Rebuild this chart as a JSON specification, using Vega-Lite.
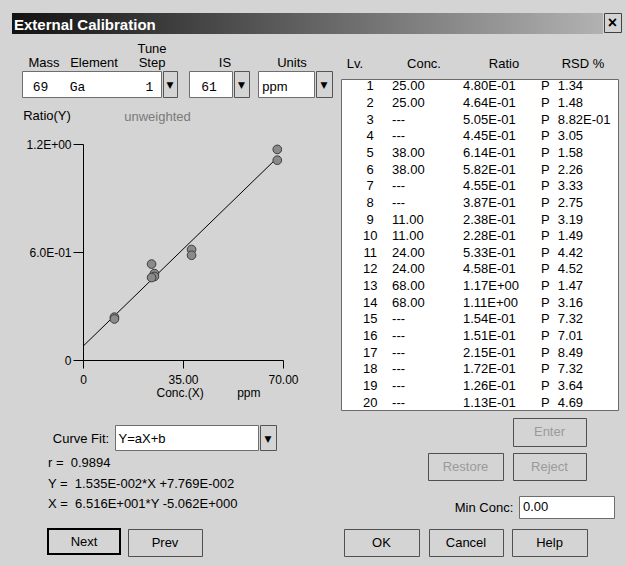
{
"$schema": "https://vega.github.io/schema/vega-lite/v6.json",
"background": "#d4d4d4",
"padding": {"left": 12, "top": 12, "right": 4, "bottom": 10},
"config": {
  "view": {"stroke": null},
  "concat": {"spacing": 0},
  "text": {"font": "Liberation Sans", "fontSize": 13, "color": "#000000"},
  "axis": {"labelFont": "Liberation Sans", "titleFont": "Liberation Sans", "labelFontSize": 12, "titleFontSize": 12, "titleFontWeight": "normal", "labelColor": "#000000", "titleColor": "#000000", "domainColor": "#000000", "tickColor": "#000000", "grid": false}
},
"datasets": {"levels": [
  {"lv": 1, "conc": "25.00", "ratio": "4.80E-01", "rsd": "1.34"},
  {"lv": 2, "conc": "25.00", "ratio": "4.64E-01", "rsd": "1.48"},
  {"lv": 3, "conc": "---", "ratio": "5.05E-01", "rsd": "8.82E-01"},
  {"lv": 4, "conc": "---", "ratio": "4.45E-01", "rsd": "3.05"},
  {"lv": 5, "conc": "38.00", "ratio": "6.14E-01", "rsd": "1.58"},
  {"lv": 6, "conc": "38.00", "ratio": "5.82E-01", "rsd": "2.26"},
  {"lv": 7, "conc": "---", "ratio": "4.55E-01", "rsd": "3.33"},
  {"lv": 8, "conc": "---", "ratio": "3.87E-01", "rsd": "2.75"},
  {"lv": 9, "conc": "11.00", "ratio": "2.38E-01", "rsd": "3.19"},
  {"lv": 10, "conc": "11.00", "ratio": "2.28E-01", "rsd": "1.49"},
  {"lv": 11, "conc": "24.00", "ratio": "5.33E-01", "rsd": "4.42"},
  {"lv": 12, "conc": "24.00", "ratio": "4.58E-01", "rsd": "4.52"},
  {"lv": 13, "conc": "68.00", "ratio": "1.17E+00", "rsd": "1.47"},
  {"lv": 14, "conc": "68.00", "ratio": "1.11E+00", "rsd": "3.16"},
  {"lv": 15, "conc": "---", "ratio": "1.54E-01", "rsd": "7.32"},
  {"lv": 16, "conc": "---", "ratio": "1.51E-01", "rsd": "7.01"},
  {"lv": 17, "conc": "---", "ratio": "2.15E-01", "rsd": "8.49"},
  {"lv": 18, "conc": "---", "ratio": "1.72E-01", "rsd": "7.32"},
  {"lv": 19, "conc": "---", "ratio": "1.26E-01", "rsd": "3.64"},
  {"lv": 20, "conc": "---", "ratio": "1.13E-01", "rsd": "4.69"}
]},
"vconcat": [
 {"hconcat": [
   {"width": 591, "height": 21, "data": {"values": [{}]}, "layer": [
     {"mark": {"type": "rect", "fill": {"gradient": "linear", "x1": 0, "y1": 0, "x2": 1, "y2": 0, "stops": [{"offset": 0, "color": "#121212"}, {"offset": 1, "color": "#b2b2b2"}]}}, "encoding": {}},
     {"mark": {"type": "text", "text": "External Calibration", "align": "left", "dx": -293.5, "dy": 1, "fontSize": 15, "fontWeight": "bold", "color": "#ffffff"}}
   ]},
   {"width": 17, "height": 19, "view": {"fill": "#d4d4d4", "stroke": "#404040"}, "data": {"values": [{}]}, "mark": {"type": "text", "text": "×", "fontSize": 16, "fontWeight": "bold"}}
 ]},
 {"hconcat": [
   {"vconcat": [
     {"hconcat": [
       {"width": 57, "height": 36, "data": {"values": [{}]}, "mark": {"type": "text", "text": "Mass", "dx": 3.5, "dy": 11}},
       {"width": 55, "height": 36, "data": {"values": [{}]}, "mark": {"type": "text", "text": "Element", "dx": -2.5, "dy": 11}},
       {"width": 61, "height": 36, "data": {"values": [{}]}, "layer": [
         {"mark": {"type": "text", "text": "Tune", "dx": -2.5, "dy": -3}},
         {"mark": {"type": "text", "text": "Step", "dx": -2.5, "dy": 11}}
       ]},
       {"width": 72, "height": 36, "data": {"values": [{}]}, "mark": {"type": "text", "text": "IS", "dx": 4, "dy": 11}},
       {"width": 83, "height": 36, "data": {"values": [{}]}, "mark": {"type": "text", "text": "Units", "dx": -6.5, "dy": 11}}
     ]},
     {"hconcat": [
       {"width": 9, "height": 28, "data": {"values": [{}]}, "mark": {"type": "rect", "opacity": 0}, "encoding": {}},
       {"width": 139, "height": 26, "view": {"fill": "#ffffff", "stroke": "#6e6e6e"}, "data": {"values": [{}]}, "layer": [
         {"mark": {"type": "text", "text": "69", "font": "Liberation Mono", "dx": -51, "dy": 3}},
         {"mark": {"type": "text", "text": "Ga", "font": "Liberation Mono", "dx": -14, "dy": 3}},
         {"mark": {"type": "text", "text": "1", "font": "Liberation Mono", "dx": 58, "dy": 3}}
       ]},
       {"width": 14, "height": 26, "view": {"fill": "#d4d4d4", "stroke": "#555555"}, "data": {"values": [{}]}, "mark": {"type": "text", "text": "▼", "font": "DejaVu Sans", "fontSize": 9, "dy": 1}},
       {"width": 10, "height": 28, "data": {"values": [{}]}, "mark": {"type": "rect", "opacity": 0}, "encoding": {}},
       {"width": 43, "height": 26, "view": {"fill": "#ffffff", "stroke": "#6e6e6e"}, "data": {"values": [{}]}, "mark": {"type": "text", "text": "61", "font": "Liberation Mono", "dx": -1.5, "dy": 3}},
       {"width": 15, "height": 26, "view": {"fill": "#d4d4d4", "stroke": "#555555"}, "data": {"values": [{}]}, "mark": {"type": "text", "text": "▼", "font": "DejaVu Sans", "fontSize": 9, "dy": 1}},
       {"width": 7, "height": 28, "data": {"values": [{}]}, "mark": {"type": "rect", "opacity": 0}, "encoding": {}},
       {"width": 56, "height": 26, "view": {"fill": "#ffffff", "stroke": "#6e6e6e"}, "data": {"values": [{}]}, "mark": {"type": "text", "text": "ppm", "dx": -11, "dy": 3}},
       {"width": 16, "height": 26, "view": {"fill": "#d4d4d4", "stroke": "#555555"}, "data": {"values": [{}]}, "mark": {"type": "text", "text": "▼", "font": "DejaVu Sans", "fontSize": 9, "dy": 1}},
       {"width": 7, "height": 28, "data": {"values": [{}]}, "mark": {"type": "rect", "opacity": 0}, "encoding": {}}
     ]},
     {"hconcat": [
       {"width": 98, "height": 39, "data": {"values": [{}]}, "mark": {"type": "text", "text": "Ratio(Y)", "dx": -14, "dy": -3}},
       {"width": 100, "height": 39, "data": {"values": [{}]}, "mark": {"type": "text", "text": "unweighted", "dx": -2.5, "dy": -2, "color": "#7a7a7a"}}
     ]},
     {"hconcat": [
       {"width": 13, "height": 1, "data": {"values": [{}]}, "mark": {"type": "rect", "opacity": 0}, "encoding": {}},
       {"width": 200, "height": 216, "data": {"name": "levels"},
        "transform": [{"filter": "datum.conc !== '---'"}],
        "encoding": {
          "x": {"field": "conc", "type": "quantitative", "scale": {"domain": [0, 70], "nice": false, "zero": false},
                "axis": {"values": [0, 35, 70], "labelExpr": "datum.value == 0 ? '0' : format(datum.value, '.2f')", "tickSize": 8, "labelPadding": 6, "labelFlush": false, "labelOverlap": false, "title": "Conc.(X)\u00a0\u00a0\u00a0\u00a0\u00a0\u00a0\u00a0\u00a0\u00a0\u00a0ppm", "titleAlign": "left", "titleAnchor": "start", "titleX": 73, "titlePadding": 2}},
          "y": {"field": "ratio", "type": "quantitative", "scale": {"domain": [0, 1.2], "nice": false},
                "axis": {"values": [0, 0.6, 1.2], "labelExpr": "datum.value == 0 ? '0' : (datum.value < 1 ? '6.0E-01' : '1.2E+00')", "tickSize": 10, "labelPadding": 2, "labelOverlap": false, "title": null}}
        },
        "layer": [
          {"transform": [{"regression": "ratio", "on": "conc", "extent": [0, 68]}], "mark": {"type": "line", "color": "#000000", "strokeWidth": 1}, "encoding": {}},
          {"mark": {"type": "point", "shape": "circle", "filled": true, "size": 75, "fill": "#8a8a8a", "stroke": "#3c3c3c", "strokeWidth": 1, "opacity": 1}}
        ]}
     ]}
   ]},
   {"vconcat": [
     {"hconcat": [
       {"width": 35, "height": 44, "data": {"values": [{}]}, "mark": {"type": "text", "text": "Lv.", "dx": -3.5, "dy": 8}},
       {"width": 90, "height": 44, "data": {"values": [{}]}, "mark": {"type": "text", "text": "Conc.", "dx": 3, "dy": 8}},
       {"width": 75, "height": 44, "data": {"values": [{}]}, "mark": {"type": "text", "text": "Ratio", "dx": 0.5, "dy": 8}},
       {"width": 82, "height": 44, "data": {"values": [{}]}, "mark": {"type": "text", "text": "RSD %", "dx": 1, "dy": 8}}
     ]},
     {"width": 277, "height": 331, "view": {"fill": "#ffffff", "stroke": "#6a6a6a"}, "data": {"name": "levels"},
      "encoding": {"y": {"field": "lv", "type": "ordinal", "axis": null, "scale": {"type": "point", "padding": 0.45}}},
      "layer": [
        {"mark": {"type": "text", "align": "center", "dx": 1.5}, "encoding": {"x": {"datum": "Lv", "type": "nominal", "axis": null, "scale": {"type": "point", "domain": ["Lv", "Conc", "Ratio", "P", "RSD"], "padding": 0.5}}, "text": {"field": "lv"}}},
        {"mark": {"type": "text", "align": "left", "dx": -32}, "encoding": {"x": {"datum": "Conc", "type": "nominal", "axis": null}, "text": {"field": "conc"}}},
        {"mark": {"type": "text", "align": "left", "dx": -16.5}, "encoding": {"x": {"datum": "Ratio", "type": "nominal", "axis": null}, "text": {"field": "ratio"}}},
        {"mark": {"type": "text", "align": "left", "dx": 6}, "encoding": {"x": {"datum": "P", "type": "nominal", "axis": null}, "text": {"value": "P"}}},
        {"mark": {"type": "text", "align": "left", "dx": -32.5}, "encoding": {"x": {"datum": "RSD", "type": "nominal", "axis": null}, "text": {"field": "rsd"}}}
      ]}
   ]}
 ]},
 {"hconcat": [
   {"vconcat": [
     {"width": 328, "height": 13, "data": {"values": [{}]}, "mark": {"type": "rect", "opacity": 0}, "encoding": {}},
     {"hconcat": [
       {"width": 36, "height": 27, "data": {"values": [{}]}, "mark": {"type": "rect", "opacity": 0}, "encoding": {}},
       {"width": 66, "height": 27, "data": {"values": [{}]}, "mark": {"type": "text", "text": "Curve Fit:"}},
       {"width": 143, "height": 25, "view": {"fill": "#ffffff", "stroke": "#6e6e6e"}, "data": {"values": [{}]}, "mark": {"type": "text", "text": "Y=aX+b", "align": "left", "dx": -68, "dy": 1}},
       {"width": 16, "height": 25, "view": {"fill": "#d4d4d4", "stroke": "#555555"}, "data": {"values": [{}]}, "mark": {"type": "text", "text": "▼", "font": "DejaVu Sans", "fontSize": 9, "dy": 1}}
     ]},
     {"hconcat": [
       {"width": 36, "height": 63, "data": {"values": [{}]}, "mark": {"type": "rect", "opacity": 0}, "encoding": {}},
       {"width": 250, "height": 63,
        "data": {"values": [
          {"line": 1, "text": "r =\u00a0\u00a00.9894"},
          {"line": 2, "text": "Y =\u00a0\u00a01.535E-002*X +7.769E-002"},
          {"line": 3, "text": "X =\u00a0\u00a06.516E+001*Y -5.062E+000"}
        ]},
        "mark": {"type": "text", "align": "left", "dx": -125},
        "encoding": {"y": {"field": "line", "type": "ordinal", "axis": null, "scale": {"type": "point", "padding": 0.54}}, "text": {"field": "text"}}}
     ]},
     {"width": 328, "height": 11, "data": {"values": [{}]}, "mark": {"type": "rect", "opacity": 0}, "encoding": {}}
   ]},
   {"vconcat": [
     {"width": 10, "height": 6, "data": {"values": [{}]}, "mark": {"type": "rect", "opacity": 0}, "encoding": {}},
     {"hconcat": [
       {"width": 172, "height": 30, "data": {"values": [{}]}, "mark": {"type": "rect", "opacity": 0}, "encoding": {}},
       {"width": 73, "height": 28, "view": {"fill": "#d4d4d4", "stroke": "#505050"}, "data": {"values": [{}]}, "mark": {"type": "text", "text": "Enter", "color": "#9a9a9a"}}
     ]},
     {"width": 10, "height": 4, "data": {"values": [{}]}, "mark": {"type": "rect", "opacity": 0}, "encoding": {}},
     {"hconcat": [
       {"width": 87, "height": 29, "data": {"values": [{}]}, "mark": {"type": "rect", "opacity": 0}, "encoding": {}},
       {"width": 75, "height": 27, "view": {"fill": "#d4d4d4", "stroke": "#505050"}, "data": {"values": [{}]}, "mark": {"type": "text", "text": "Restore", "color": "#9a9a9a"}},
       {"width": 8, "height": 29, "data": {"values": [{}]}, "mark": {"type": "rect", "opacity": 0}, "encoding": {}},
       {"width": 73, "height": 27, "view": {"fill": "#d4d4d4", "stroke": "#505050"}, "data": {"values": [{}]}, "mark": {"type": "text", "text": "Reject", "color": "#9a9a9a"}}
     ]},
     {"width": 10, "height": 13, "data": {"values": [{}]}, "mark": {"type": "rect", "opacity": 0}, "encoding": {}},
     {"hconcat": [
       {"width": 108, "height": 24, "data": {"values": [{}]}, "mark": {"type": "rect", "opacity": 0}, "encoding": {}},
       {"width": 70, "height": 24, "data": {"values": [{}]}, "mark": {"type": "text", "text": "Min Conc:", "dx": 1}},
       {"width": 95, "height": 22, "view": {"fill": "#ffffff", "stroke": "#6e6e6e"}, "data": {"values": [{}]}, "mark": {"type": "text", "text": "0.00", "align": "left", "dx": -43.5}}
     ]},
     {"width": 10, "height": 8, "data": {"values": [{}]}, "mark": {"type": "rect", "opacity": 0}, "encoding": {}}
   ]}
 ]},
 {"hconcat": [
   {"width": 35, "height": 29, "data": {"values": [{}]}, "mark": {"type": "rect", "opacity": 0}, "encoding": {}},
   {"width": 72, "height": 25, "view": {"fill": "#d4d4d4", "stroke": "#000000", "strokeWidth": 2}, "data": {"values": [{}]}, "mark": {"type": "text", "text": "Next"}},
   {"width": 6, "height": 29, "data": {"values": [{}]}, "mark": {"type": "rect", "opacity": 0}, "encoding": {}},
   {"width": 74, "height": 27, "view": {"fill": "#d4d4d4", "stroke": "#505050"}, "data": {"values": [{}]}, "mark": {"type": "text", "text": "Prev"}},
   {"width": 140, "height": 29, "data": {"values": [{}]}, "mark": {"type": "rect", "opacity": 0}, "encoding": {}},
   {"width": 75, "height": 27, "view": {"fill": "#d4d4d4", "stroke": "#505050"}, "data": {"values": [{}]}, "mark": {"type": "text", "text": "OK"}},
   {"width": 8, "height": 29, "data": {"values": [{}]}, "mark": {"type": "rect", "opacity": 0}, "encoding": {}},
   {"width": 74, "height": 27, "view": {"fill": "#d4d4d4", "stroke": "#505050"}, "data": {"values": [{}]}, "mark": {"type": "text", "text": "Cancel"}},
   {"width": 7, "height": 29, "data": {"values": [{}]}, "mark": {"type": "rect", "opacity": 0}, "encoding": {}},
   {"width": 75, "height": 27, "view": {"fill": "#d4d4d4", "stroke": "#505050"}, "data": {"values": [{}]}, "mark": {"type": "text", "text": "Help"}}
 ]}
]
}
